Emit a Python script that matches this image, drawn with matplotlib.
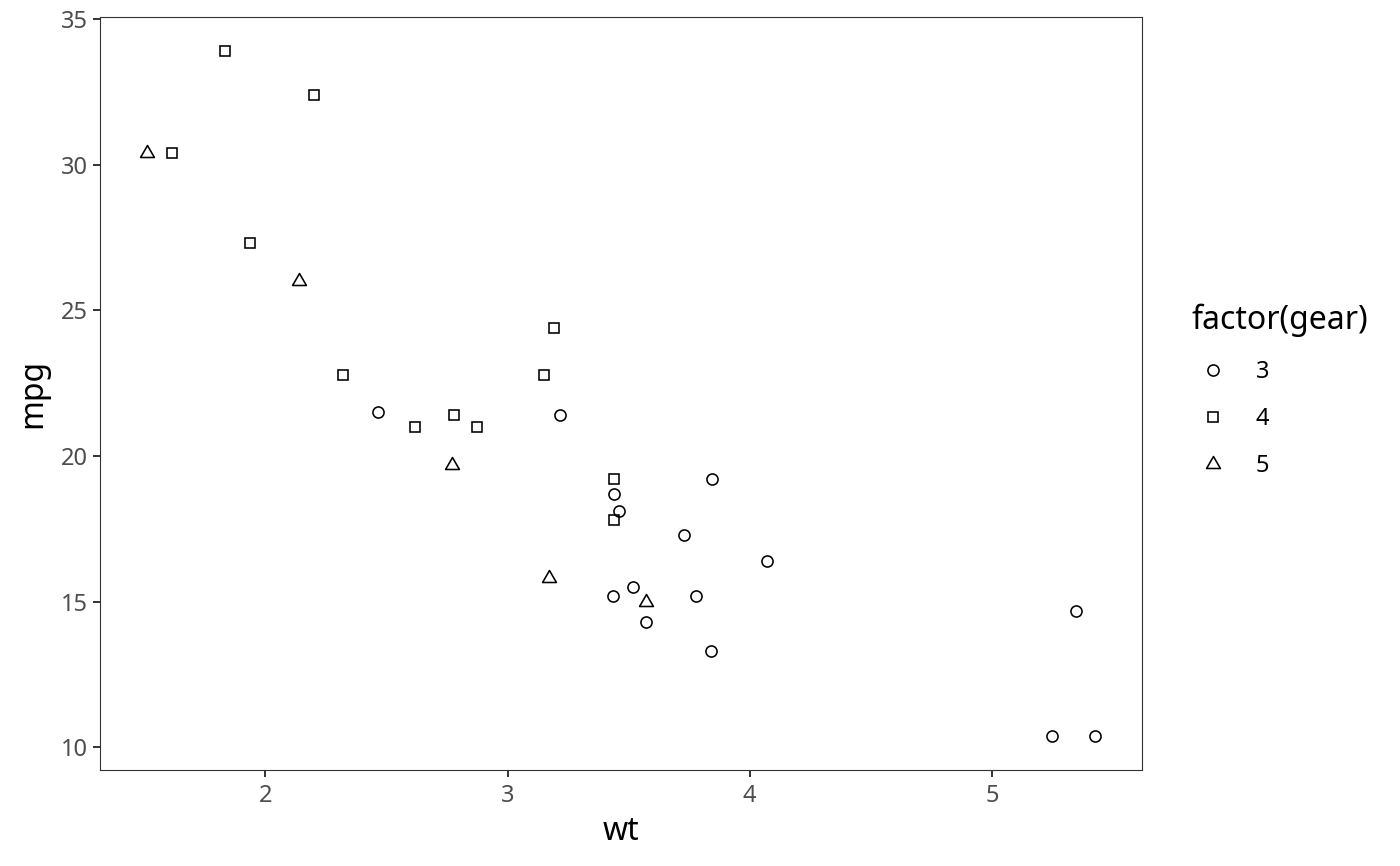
import numpy as np
import matplotlib
matplotlib.use('Agg')
import matplotlib.pyplot as plt
from matplotlib.path import Path

plt.rcParams['font.family'] = ['Noto Sans', 'DejaVu Sans']

# mtcars: weight, mpg, gear
wt = [2.620, 2.875, 2.320, 3.215, 3.440, 3.460, 3.570, 3.190, 3.150, 3.440,
      3.440, 4.070, 3.730, 3.780, 5.250, 5.424, 5.345, 2.200, 1.615, 1.835,
      2.465, 3.520, 3.435, 3.840, 3.845, 1.935, 2.140, 1.513, 3.170, 2.770,
      3.570, 2.780]
mpg = [21.0, 21.0, 22.8, 21.4, 18.7, 18.1, 14.3, 24.4, 22.8, 19.2,
       17.8, 16.4, 17.3, 15.2, 10.4, 10.4, 14.7, 32.4, 30.4, 33.9,
       21.5, 15.5, 15.2, 13.3, 19.2, 27.3, 26.0, 30.4, 15.8, 19.7,
       15.0, 21.4]
gear = [4, 4, 4, 3, 3, 3, 3, 4, 4, 4,
        4, 3, 3, 3, 3, 3, 3, 4, 4, 4,
        3, 3, 3, 3, 3, 4, 5, 5, 5, 5,
        5, 4]
gear_levels = [3, 4, 5]
x_ticks = [2, 3, 4, 5]
y_ticks = [10, 15, 20, 25, 30, 35]

wt = np.array(wt)
mpg = np.array(mpg)
gear = np.array(gear)

# equilateral triangle like ggplot shape 2
h = np.sqrt(3) / 2
tri = Path([(-0.5, -h / 3), (0.5, -h / 3), (0, 2 * h / 3), (-0.5, -h / 3)],
           [Path.MOVETO, Path.LINETO, Path.LINETO, Path.CLOSEPOLY])
shapes = {3: ('o', 8.0), 4: ('s', 7.8), 5: (tri, 11.5)}

fig = plt.figure(figsize=(14, 8.66), dpi=100)
ax = fig.add_axes([100 / 1400, 1 - 770 / 866, 1042 / 1400, 753 / 866])

for g in gear_levels:
    m = gear == g
    mk, ms = shapes[g]
    ax.plot(wt[m], mpg[m], linestyle='none', marker=mk, markersize=ms,
            markerfacecolor='none', markeredgecolor='black',
            markeredgewidth=1.15, label=str(g))

xr = wt.max() - wt.min()
yr = mpg.max() - mpg.min()
ax.set_xlim(wt.min() - 0.05 * xr, wt.max() + 0.05 * xr)
ax.set_ylim(mpg.min() - 0.05 * yr, mpg.max() + 0.05 * yr)
ax.set_xticks(x_ticks)
ax.set_yticks(y_ticks)
ax.tick_params(colors='#333333', labelcolor='#4D4D4D', labelsize=17,
               length=5, width=1.4, pad=4)
ax.tick_params(axis='x', pad=5)
for s in ax.spines.values():
    s.set_color('#333333')
    s.set_linewidth(0.8)
ax.set_xlabel('wt', fontsize=23, labelpad=5)
ax.set_ylabel('mpg', fontsize=23, labelpad=8)

leg = fig.legend(loc='upper left', bbox_to_anchor=(1180 / 1400, 1 - 292 / 866),
                 frameon=False, title='factor(gear)', fontsize=17,
                 title_fontsize=23, labelspacing=0.97, handletextpad=0.9,
                 handlelength=1.8, borderpad=0)
leg._legend_box.align = 'left'

fig.savefig('out.png', dpi=100)
